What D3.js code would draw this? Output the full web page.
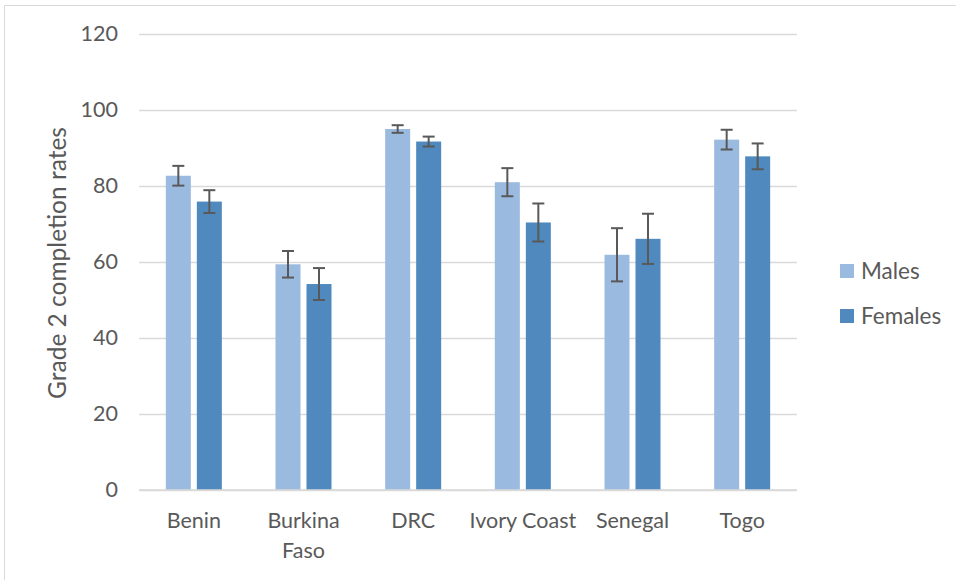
<!DOCTYPE html>
<html>
<head>
<meta charset="utf-8">
<script src="https://cdn.jsdelivr.net/npm/d3@7"></script>
<style>
  html, body { margin: 0; padding: 0; background: #fff; }
  svg { display: block; font-family: Lato, "Open Sans", sans-serif; }
</style>
</head>
<body>
<svg id="chart" width="956" height="580"></svg>
<script>
const categories = ["Benin", "Burkina Faso", "DRC", "Ivory Coast", "Senegal", "Togo"];
const series = ["Males", "Females"];
const malesValues = [82.7, 59.4, 95.0, 81.0, 61.9, 92.2];
const femalesValues = [75.9, 54.2, 91.7, 70.4, 66.1, 87.8];
const malesErrors = [2.6, 3.5, 1.0, 3.7, 7.0, 2.6];
const femalesErrors = [3.0, 4.2, 1.3, 5.0, 6.6, 3.4];
const yTicks = [0, 20, 40, 60, 80, 100, 120];
const colors = ["#9BBAE0", "#4F89BD"];

(function () {
const svg = d3.select("#chart");
const plotLeft = 139, plotRight = 797, plotTop = 34, plotBottom = 490;
const font = "Lato, 'Open Sans', sans-serif";

svg.append("rect").attr("x", 4.5).attr("y", 5.5).attr("width", 980).attr("height", 600)
  .attr("fill", "none").attr("stroke", "#D9D9D9").attr("stroke-width", 1);

const y = d3.scaleLinear().domain([0, 120]).range([plotBottom, plotTop]);
const x0 = d3.scaleBand().domain(categories).range([plotLeft, plotRight]).padding(0);
const bw = x0.bandwidth();
const x1 = d3.scaleBand().domain(series).range([bw / 2 - 28, bw / 2 + 28]).paddingInner(0.1935).paddingOuter(0);
const color = d3.scaleOrdinal().domain(series).range(colors);

const yAxis = d3.axisLeft(y).tickValues(yTicks).tickSize(-(plotRight - plotLeft)).tickPadding(21).tickFormat(d3.format("d"));
const gAxis = svg.append("g").attr("transform", `translate(${plotLeft},0)`).call(yAxis);
gAxis.select(".domain").remove();
gAxis.selectAll(".tick line").attr("stroke", "#D9D9D9").attr("stroke-width", 1.5);
gAxis.selectAll(".tick text").attr("fill", "#595959").style("font-size", "21.5px")
  .style("font-family", font);

const rows = categories.map((c, i) => ({
  cat: c,
  items: [
    { s: "Males", v: malesValues[i], e: malesErrors[i] },
    { s: "Females", v: femalesValues[i], e: femalesErrors[i] }
  ]
}));

const groups = svg.append("g").selectAll("g").data(rows).join("g")
  .attr("transform", d => `translate(${x0(d.cat)},0)`);

groups.selectAll("rect").data(d => d.items).join("rect")
  .attr("x", d => x1(d.s))
  .attr("width", x1.bandwidth())
  .attr("y", d => y(d.v))
  .attr("height", d => y(0) - y(d.v))
  .attr("fill", d => color(d.s));

const eb = groups.selectAll("g.err").data(d => d.items).join("g").attr("class", "err");
const cap = 6;
const cx = d => x1(d.s) + x1.bandwidth() / 2;
eb.append("line")
  .attr("x1", cx).attr("x2", cx)
  .attr("y1", d => y(d.v + d.e)).attr("y2", d => y(d.v - d.e));
eb.append("line")
  .attr("x1", d => cx(d) - cap).attr("x2", d => cx(d) + cap)
  .attr("y1", d => y(d.v + d.e)).attr("y2", d => y(d.v + d.e));
eb.append("line")
  .attr("x1", d => cx(d) - cap).attr("x2", d => cx(d) + cap)
  .attr("y1", d => y(d.v - d.e)).attr("y2", d => y(d.v - d.e));
eb.selectAll("line").attr("stroke", "#595959").attr("stroke-width", 2);

svg.append("line").attr("x1", plotLeft).attr("x2", plotRight).attr("y1", y(0)).attr("y2", y(0))
  .attr("stroke", "#D9D9D9").attr("stroke-width", 1.5);

const xAxis = d3.axisBottom(x0).tickSize(0).tickPadding(0);
const gx = svg.append("g").attr("transform", `translate(0,${plotBottom})`).call(xAxis);
gx.select(".domain").remove();
gx.selectAll(".tick text").each(function (d) {
  const t = d3.select(this);
  t.text(null).attr("y", 0).attr("dy", null)
    .attr("fill", "#595959").style("font-size", "21.5px")
    .style("font-family", font);
  const lines = d === "Burkina Faso" ? ["Burkina", "Faso"] : [d];
  lines.forEach((l, k) => {
    t.append("tspan").attr("x", 0).attr("y", 38 + k * 30).text(l);
  });
});

svg.append("text")
  .attr("transform", `translate(66,263) rotate(-90)`)
  .attr("text-anchor", "middle")
  .attr("fill", "#595959")
  .style("font-size", "24.5px")
  .text("Grade 2 completion rates");

const legend = svg.append("g").selectAll("g").data(series).join("g")
  .attr("transform", (d, i) => `translate(840,${264 + i * 45})`);
legend.append("rect").attr("width", 14).attr("height", 14).attr("fill", d => color(d));
legend.append("text").attr("x", 21).attr("y", 15).attr("fill", "#595959")
  .style("font-size", "22.5px").text(d => d);
})();
</script>
</body>
</html>
